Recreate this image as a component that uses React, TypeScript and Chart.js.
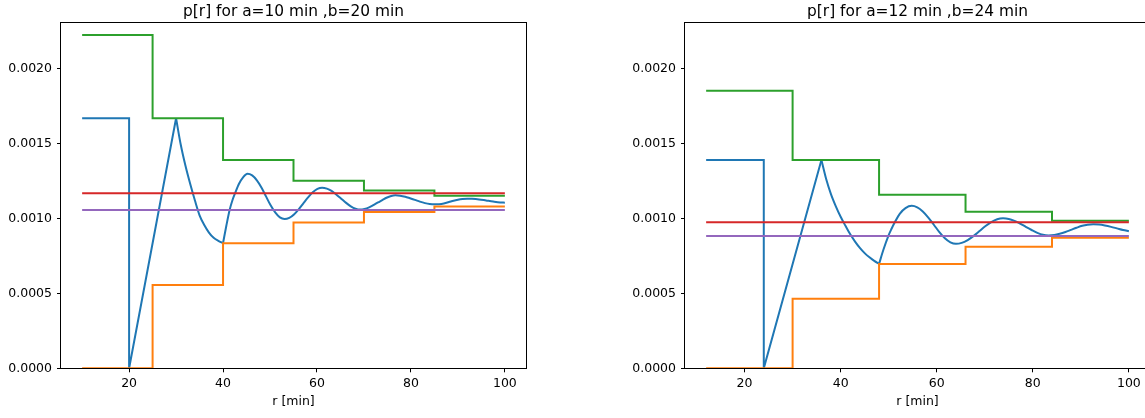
import React, { useEffect, useRef } from 'react';
import { Chart, registerables } from 'chart.js';

Chart.register(...registerables);

type Pt = [number, number];

const xLabel = 'r [min]';
const xTicks = [20, 40, 60, 80, 100];
const yTicks = [0, 0.0005, 0.001, 0.0015, 0.002];
const yMax = 0.002304;

// ---------- left panel: a=10, b=20 ----------
const leftTitle = 'p[r] for a=10 min ,b=20 min';
const leftEdges = [10, 25, 40, 55, 70, 85, 100];
const leftUpper = [0.002222, 0.001667, 0.001389, 0.00125, 0.001185, 0.00115];
const leftLower = [0, 0.000556, 0.000833, 0.000972, 0.001042, 0.001078];
const leftRed = 0.001167;
const leftPurple = 0.001056;
const leftStart: Pt[] = [[10, 0.001667], [20, 0.001667], [20, 0], [30, 0.001667]];
const leftDecay: Pt[] = [
  [30, 0.001667], [31, 0.00149], [32, 0.00135], [33, 0.00123], [34, 0.00112], [35, 0.00102],
  [36, 0.000955], [37, 0.000905], [38, 0.00087], [39, 0.00085], [40, 0.000835],
];
const leftWave: Pt[] = [
  [40, 0.000835], [40.7, 0.00095], [41.4, 0.001055], [42.0, 0.00112], [42.6, 0.00117], [43.4, 0.00123],
  [44.3, 0.001275], [45.2, 0.001297], [46.2, 0.001286], [47.2, 0.001253], [48.2, 0.001204],
  [49.15, 0.001146], [50.1, 0.001088], [51.1, 0.001039], [52.1, 0.001006], [53.1, 0.000995],
  [54.1, 0.001003], [55.1, 0.001026], [56.1, 0.00106], [57.1, 0.0011], [58.1, 0.001139],
  [59.1, 0.001173], [60.1, 0.001196], [61.1, 0.001204], [62.1, 0.001198], [63.1, 0.001183],
  [64.1, 0.001159], [65.15, 0.001131], [66.2, 0.001103], [67.2, 0.00108], [68.2, 0.001064],
  [69.2, 0.001058], [70.1, 0.001062], [71.1, 0.001073], [72.1, 0.00109], [73.0, 0.001106],
  [73.9, 0.001121], [74.8, 0.001137], [75.8, 0.001149], [76.7, 0.001153], [77.7, 0.001151],
  [78.8, 0.001144], [79.8, 0.001134], [80.85, 0.001123], [81.9, 0.001111], [83.0, 0.001101],
  [84.0, 0.001095], [85.0, 0.001093], [86.0, 0.001094], [87.0, 0.001099], [88.5, 0.001112],
  [90.0, 0.001124], [91.0, 0.001129], [92.0, 0.001131], [93.0, 0.00113], [94.5, 0.001126],
  [96.0, 0.001119], [97.5, 0.001112], [99.0, 0.001106], [100, 0.001104],
];

// ---------- right panel: a=12, b=24 ----------
const rightTitle = 'p[r] for a=12 min ,b=24 min';
const rightEdges = [12, 30, 48, 66, 84, 100];
const rightUpper = [0.00185, 0.001389, 0.001157, 0.001044, 0.000984];
const rightLower = [0, 0.000464, 0.000695, 0.000811, 0.00087];
const rightRed = 0.000974;
const rightPurple = 0.000882;
const rightStart: Pt[] = [[12, 0.001389], [24, 0.001389], [24, 0], [36, 0.001389]];
const rightDecay: Pt[] = [
  [36, 0.001389], [37, 0.00126], [38, 0.00116], [39, 0.00108], [40, 0.00101], [41, 0.00095],
  [42, 0.000893], [43, 0.000845], [44, 0.000803], [45, 0.000768], [46, 0.00074], [47, 0.000716],
  [48, 0.000696],
];
const rightWave: Pt[] = [
  [48, 0.000696], [48.9, 0.00079], [49.9, 0.00088], [50.6, 0.00093], [51.3, 0.000975],
  [52.3, 0.00103], [53.5, 0.001068], [54.8, 0.001083], [55.95, 0.001073], [57.1, 0.001046],
  [58.25, 0.001005], [59.4, 0.000957], [60.55, 0.000908], [61.7, 0.000867], [62.85, 0.00084],
  [64, 0.00083], [65.2, 0.000836], [66.45, 0.000855], [67.7, 0.000883], [68.9, 0.000915],
  [70.1, 0.000947], [71.35, 0.000975], [72.6, 0.000994], [73.8, 0.001], [75, 0.000996],
  [76.2, 0.000983], [77.35, 0.000965], [78.55, 0.000943], [79.75, 0.000922], [80.95, 0.000903],
  [82.1, 0.00089], [83.3, 0.000886], [84.5, 0.000889], [85.6, 0.000897], [86.8, 0.000909],
  [87.95, 0.000923], [89.1, 0.000937], [90.3, 0.00095], [91.4, 0.000957], [92.6, 0.00096],
  [93.8, 0.000958], [95, 0.000952], [96.3, 0.000943], [97.5, 0.000933], [98.8, 0.000922],
  [100, 0.000914],
];

const C_BLUE = '#1f77b4';
const C_ORANGE = '#ff7f0e';
const C_GREEN = '#2ca02c';
const C_RED = '#d62728';
const C_PURPLE = '#9467bd';
const FONT = '"DejaVu Sans", sans-serif';
const LW = 2;

const frameTitlePlugin = {
  id: 'frameTitle',
  afterDatasetsDraw(chart: any, _args: any, opts: any) {
    const { ctx, chartArea: ca } = chart;
    ctx.save();
    ctx.strokeStyle = '#000';
    ctx.lineWidth = 1;
    ctx.strokeRect(Math.round(ca.left) - 0.5, Math.round(ca.top) - 0.5,
      Math.round(ca.right) - Math.round(ca.left) + 1, Math.round(ca.bottom) - Math.round(ca.top) + 1);
    ctx.fillStyle = '#000';
    ctx.font = `15.4px ${FONT}`;
    ctx.textAlign = 'center';
    ctx.textBaseline = 'alphabetic';
    ctx.fillText(opts.text, (ca.left + ca.right) / 2, 15.5);
    ctx.restore();
  },
};

const toXY = (pts: Pt[]) => pts.map(([x, y]) => ({ x, y }));
const stepData = (edges: number[], levels: number[]) =>
  edges.map((x, i) => ({ x, y: levels[Math.min(i, levels.length - 1)] }));

function buildConfig(p: any) {
  const line = (data: any[], color: string, extra: any = {}) => ({
    data, borderColor: color, backgroundColor: color, borderWidth: LW,
    pointRadius: 0, fill: false, tension: 0, clip: 0, ...extra,
  });
  const first = p.edges[0];
  const last = p.edges[p.edges.length - 1];
  const datasets = [
    line([{ x: first, y: p.purple }, { x: last, y: p.purple }], C_PURPLE),
    line([{ x: first, y: p.red }, { x: last, y: p.red }], C_RED),
    line(stepData(p.edges, p.upper), C_GREEN, { stepped: 'before' }),
    line(stepData(p.edges, p.lower), C_ORANGE, { stepped: 'before' }),
    line(toXY(p.wave), C_BLUE, { cubicInterpolationMode: 'monotone' }),
    line(toXY(p.decay), C_BLUE, { cubicInterpolationMode: 'monotone' }),
    line(toXY(p.start), C_BLUE),
  ];
  const tickFont = { family: FONT, size: 12.5 };
  return {
    type: 'line',
    data: { datasets },
    plugins: [frameTitlePlugin],
    options: {
      animation: false,
      responsive: false,
      maintainAspectRatio: false,
      devicePixelRatio: 1,
      events: [],
      layout: { padding: { left: 0, top: 22.7, right: p.padRight, bottom: 0 } },
      plugins: {
        legend: { display: false },
        tooltip: { enabled: false },
        title: { display: false },
        frameTitle: { text: p.title },
      },
      scales: {
        x: {
          type: 'linear',
          min: p.xmin,
          max: p.xmax,
          afterBuildTicks: (s: any) => { s.ticks = xTicks.map((v) => ({ value: v })); },
          afterFit: (s: any) => { s.height = 49.7; },
          grid: { display: true, drawOnChartArea: false, drawTicks: true, tickLength: 4, color: '#000', lineWidth: 1 },
          border: { display: false },
          ticks: { font: tickFont, color: '#000', padding: 3.5, maxRotation: 0, autoSkip: false, callback: (v: any) => String(v) },
          title: { display: true, text: xLabel, font: tickFont, color: '#000', padding: { top: 0, bottom: 8.5 } },
        },
        y: {
          type: 'linear',
          min: 0,
          max: yMax,
          afterBuildTicks: (s: any) => { s.ticks = yTicks.map((v) => ({ value: v })); },
          afterFit: (s: any) => { s.width = p.yWidth; },
          grid: { display: true, drawOnChartArea: false, drawTicks: true, tickLength: 4, color: '#000', lineWidth: 1 },
          border: { display: false },
          ticks: { font: tickFont, color: '#000', padding: 5, autoSkip: false, callback: (v: any) => Number(v).toFixed(4) },
        },
      },
    },
  };
}

const leftPanel = {
  title: leftTitle, edges: leftEdges, upper: leftUpper, lower: leftLower, red: leftRed, purple: leftPurple,
  start: leftStart, decay: leftDecay, wave: leftWave, xmin: 5.5, xmax: 104.5, yWidth: 61, padRight: 46,
};
const rightPanel = {
  title: rightTitle, edges: rightEdges, upper: rightUpper, lower: rightLower, red: rightRed, purple: rightPurple,
  start: rightStart, decay: rightDecay, wave: rightWave, xmin: 7.6, xmax: 104.4, yWidth: 113, padRight: 22,
};

function Panel({ cfg, left, width }: { cfg: any; left: number; width: number }) {
  const ref = useRef<HTMLCanvasElement>(null);
  useEffect(() => {
    if (!ref.current) return;
    const chart = new Chart(ref.current, buildConfig(cfg) as any);
    return () => chart.destroy();
  }, [cfg]);
  return (
    <canvas
      ref={ref}
      width={width}
      height={418}
      style={{ position: 'absolute', left, top: 0, width, height: 418 }}
    />
  );
}

export default function App() {
  useEffect(() => {
    document.body.style.margin = '0';
    document.body.style.background = '#fff';
  }, []);
  return (
    <div style={{ position: 'relative', width: 1145, height: 418, overflow: 'hidden', background: '#fff' }}>
      <Panel cfg={leftPanel} left={0} width={572} />
      <Panel cfg={rightPanel} left={572} width={600} />
    </div>
  );
}
